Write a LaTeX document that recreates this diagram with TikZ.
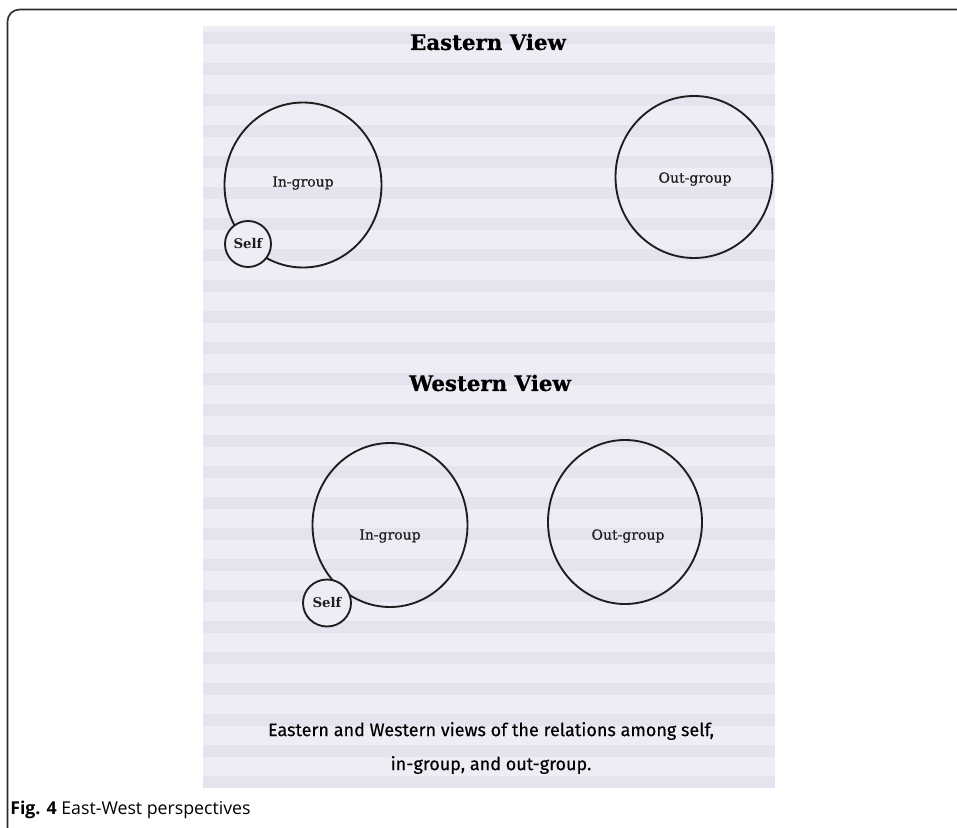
\documentclass[tikz,border=0pt]{standalone}
\usepackage{fontspec}
\setmainfont{DejaVu Serif}
\newfontfamily\lblfont[FakeBold=0.5]{DejaVu Serif}
\newfontfamily\titlefont[FakeBold=0.6]{DejaVu Serif Bold}
\newfontfamily\capfont[FakeBold=0.3]{Fira Sans}
\newfontfamily\figfont{Open Sans}
\usetikzlibrary{shapes.geometric}
\definecolor{pagebg}{HTML}{EEEDF5}
\definecolor{ghost}{HTML}{E4E3EE}
\definecolor{ink}{HTML}{1E1E1E}
\definecolor{framec}{HTML}{2B2B2B}
\begin{document}
\begin{tikzpicture}[x=0.75pt,y=-0.75pt,
  ring/.style={draw=ink, line width=1.4pt, ellipse, inner sep=0pt},
  selfring/.style={ring, fill=pagebg},
  lbl/.style={font=\lblfont\fontsize{10.5}{12}\selectfont, text=ink, inner sep=0pt},
  selflbl/.style={font=\fontsize{10}{12}\selectfont\bfseries, text=ink, inner sep=0pt},
  viewtitle/.style={font=\titlefont\fontsize{16}{19}\selectfont, text=black, inner sep=0pt},
  captext/.style={font=\capfont\fontsize{13.5}{16}\selectfont, text=black, inner sep=0pt},
  figtext/.style={font=\figfont\fontsize{13.3}{16}\selectfont, text=black, inner sep=0pt, anchor=west}]
\useasboundingbox (0,0) rectangle (957,828);
\fill[white] (0,0) rectangle (957,828);
% scanned page
\fill[pagebg] (203,26) rectangle (775,784);
\foreach \k in {0,...,24}{
  \fill[ghost] (203,{38+31*\k-6}) rectangle (775,{38+31*\k+6});
}
% frame
\draw[framec, line width=1.2pt, rounded corners=9pt] (7.5,828) -- (7.5,9.5) -- (957,9.5);

% Eastern view
\node[viewtitle] (etitle) at (488,42) {Eastern View};
\node[ring, minimum width=117.75pt, minimum height=123.75pt] (ein) at (303,185) {};
\node[lbl] (einl) at (303,183) {In-group};
\node[selfring, minimum width=34.5pt, minimum height=34.5pt] (eself) at (248,244) {};
\node[selflbl] (eselfl) at (248,244) {Self};
\node[ring, minimum width=117.75pt, minimum height=121.5pt] (eout) at (694,177) {};
\node[lbl] (eoutl) at (695,179) {Out-group};

% Western view
\node[viewtitle] (wtitle) at (490,383) {Western View};
\node[ring, minimum width=116.25pt, minimum height=123pt] (win) at (390,525) {};
\node[lbl] (winl) at (390,536) {In-group};
\node[selfring, minimum width=36pt, minimum height=35.25pt] (wself) at (327,603) {};
\node[selflbl] (wselfl) at (327,603) {Self};
\node[ring, minimum width=115.5pt, minimum height=123pt] (wout) at (625,522) {};
\node[lbl] (woutl) at (628,536) {Out-group};

% caption on the page
\node[captext] (cap1) at (491,731) {Eastern and Western views of the relations among self,};
\node[captext] (cap2) at (491,765) {in-group, and out-group.};

% figure caption
\node[figtext] (fig) at (10,810) {\textbf{Fig. 4} East-West perspectives};
\end{tikzpicture}
\end{document}
